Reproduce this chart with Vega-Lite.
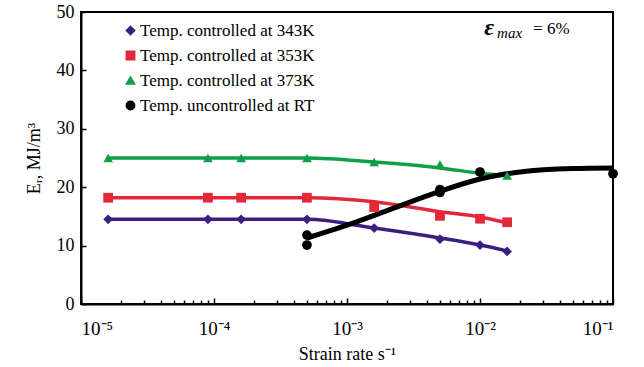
{
  "$schema": "https://vega.github.io/schema/vega-lite/v6.json",
  "width": 532,
  "height": 292,
  "autosize": "none",
  "padding": {"left": 81, "top": 12, "right": 31, "bottom": 63},
  "background": "white",
  "config": {
    "font": "Liberation Serif",
    "view": {"stroke": "black", "strokeWidth": 2},
    "axis": {
      "domainColor": "black", "domainWidth": 2, "tickColor": "black", "tickWidth": 1.5,
      "labelColor": "black", "titleColor": "black", "labelFont": "Liberation Serif", "titleFont": "Liberation Serif",
      "labelFontSize": 18, "titleFontSize": 18, "titleFontWeight": "normal", "grid": false
    },
    "legend": {"labelFontSize": 17, "labelFont": "Liberation Serif", "labelColor": "black", "symbolSize": 70, "rowPadding": 7, "labelOffset": 1, "labelLimit": 0}
  },
  "datasets": {
    "pts": [
      {"series": "Temp. controlled at 343K", "rate": 0.000016, "er": 14.5},
      {"series": "Temp. controlled at 343K", "rate": 0.00009, "er": 14.5},
      {"series": "Temp. controlled at 343K", "rate": 0.00016, "er": 14.5},
      {"series": "Temp. controlled at 343K", "rate": 0.0005, "er": 14.5},
      {"series": "Temp. controlled at 343K", "rate": 0.0016, "er": 13.0},
      {"series": "Temp. controlled at 343K", "rate": 0.005, "er": 11.1},
      {"series": "Temp. controlled at 343K", "rate": 0.01, "er": 10.1},
      {"series": "Temp. controlled at 343K", "rate": 0.016, "er": 9.0},
      {"series": "Temp. controlled at 353K", "rate": 0.000016, "er": 18.2},
      {"series": "Temp. controlled at 353K", "rate": 0.00009, "er": 18.2},
      {"series": "Temp. controlled at 353K", "rate": 0.00016, "er": 18.2},
      {"series": "Temp. controlled at 353K", "rate": 0.0005, "er": 18.2},
      {"series": "Temp. controlled at 353K", "rate": 0.0016, "er": 16.6},
      {"series": "Temp. controlled at 353K", "rate": 0.005, "er": 15.1},
      {"series": "Temp. controlled at 353K", "rate": 0.01, "er": 14.6},
      {"series": "Temp. controlled at 353K", "rate": 0.016, "er": 14.0},
      {"series": "Temp. controlled at 373K", "rate": 0.000016, "er": 25.0},
      {"series": "Temp. controlled at 373K", "rate": 0.00009, "er": 25.0},
      {"series": "Temp. controlled at 373K", "rate": 0.00016, "er": 25.0},
      {"series": "Temp. controlled at 373K", "rate": 0.0005, "er": 25.0},
      {"series": "Temp. controlled at 373K", "rate": 0.0016, "er": 24.3},
      {"series": "Temp. controlled at 373K", "rate": 0.005, "er": 23.9},
      {"series": "Temp. controlled at 373K", "rate": 0.01, "er": 22.8},
      {"series": "Temp. controlled at 373K", "rate": 0.016, "er": 22.0},
      {"series": "Temp. uncontrolled at RT", "rate": 0.0005, "er": 11.8},
      {"series": "Temp. uncontrolled at RT", "rate": 0.0005, "er": 10.1},
      {"series": "Temp. uncontrolled at RT", "rate": 0.005, "er": 19.6},
      {"series": "Temp. uncontrolled at RT", "rate": 0.005, "er": 19.1},
      {"series": "Temp. uncontrolled at RT", "rate": 0.01, "er": 22.6},
      {"series": "Temp. uncontrolled at RT", "rate": 0.1, "er": 22.3}
    ],
    "fit": [
      {"series": "Temp. controlled at 343K", "rate": 0.000016, "er": 14.5},
      {"series": "Temp. controlled at 343K", "rate": 0.00009, "er": 14.5},
      {"series": "Temp. controlled at 343K", "rate": 0.00016, "er": 14.5},
      {"series": "Temp. controlled at 343K", "rate": 0.0005, "er": 14.5},
      {"series": "Temp. controlled at 343K", "rate": 0.0016, "er": 13.0},
      {"series": "Temp. controlled at 343K", "rate": 0.005, "er": 11.3},
      {"series": "Temp. controlled at 343K", "rate": 0.01, "er": 10.1},
      {"series": "Temp. controlled at 343K", "rate": 0.016, "er": 9.1},
      {"series": "Temp. controlled at 353K", "rate": 0.000016, "er": 18.2},
      {"series": "Temp. controlled at 353K", "rate": 0.00009, "er": 18.2},
      {"series": "Temp. controlled at 353K", "rate": 0.00016, "er": 18.2},
      {"series": "Temp. controlled at 353K", "rate": 0.0005, "er": 18.2},
      {"series": "Temp. controlled at 353K", "rate": 0.0016, "er": 17.5},
      {"series": "Temp. controlled at 353K", "rate": 0.005, "er": 15.8},
      {"series": "Temp. controlled at 353K", "rate": 0.01, "er": 14.9},
      {"series": "Temp. controlled at 353K", "rate": 0.016, "er": 13.9},
      {"series": "Temp. controlled at 373K", "rate": 0.000016, "er": 25.0},
      {"series": "Temp. controlled at 373K", "rate": 0.00009, "er": 25.0},
      {"series": "Temp. controlled at 373K", "rate": 0.00016, "er": 25.0},
      {"series": "Temp. controlled at 373K", "rate": 0.0005, "er": 25.0},
      {"series": "Temp. controlled at 373K", "rate": 0.0016, "er": 24.3},
      {"series": "Temp. controlled at 373K", "rate": 0.005, "er": 23.3},
      {"series": "Temp. controlled at 373K", "rate": 0.01, "er": 22.4},
      {"series": "Temp. controlled at 373K", "rate": 0.016, "er": 22.0}
    ],
    "fitrt": [
      {"rate": 0.0005, "er": 11.3},
      {"rate": 0.001, "er": 13.5},
      {"rate": 0.002, "er": 16.0},
      {"rate": 0.005, "er": 19.3},
      {"rate": 0.01, "er": 21.4},
      {"rate": 0.02, "er": 22.6},
      {"rate": 0.05, "er": 23.2},
      {"rate": 0.1, "er": 23.3}
    ]
  },
  "resolve": {"axis": {"x": "independent"}},
  "layer": [
    {
      "data": {"name": "fit"},
      "mark": {"type": "line", "interpolate": "monotone", "strokeWidth": 3.5},
      "encoding": {
        "x": {"field": "rate", "type": "quantitative", "scale": {"type": "log", "domain": [0.00001, 0.1]},
          "axis": {"orient": "bottom", "values": [0.00002,0.00003,0.00004,0.00005,0.00006,0.00007,0.00008,0.00009,0.0002,0.0003,0.0004,0.0005,0.0006,0.0007,0.0008,0.0009,0.002,0.003,0.004,0.005,0.006,0.007,0.008,0.009,0.02,0.03,0.04,0.05,0.06,0.07,0.08,0.09],
            "labels": false, "domain": false, "tickSize": -4, "title": null}},
        "y": {"field": "er", "type": "quantitative", "scale": {"domain": [0, 50]},
          "axis": {"values": [0, 10, 20, 30, 40, 50], "tickSize": -5, "labelPadding": 12, "title": "Eᵣ, MJ/m³", "titlePadding": 13}},
        "color": {"field": "series", "type": "nominal",
          "scale": {"domain": ["Temp. controlled at 343K", "Temp. controlled at 353K", "Temp. controlled at 373K", "Temp. uncontrolled at RT"],
            "range": ["#3b1f80", "#e3283a", "#0ea048", "black"]}}
      }
    },
    {
      "data": {"name": "fitrt"},
      "mark": {"type": "line", "interpolate": "monotone", "strokeWidth": 5, "color": "black"},
      "encoding": {
        "x": {"field": "rate", "type": "quantitative", "axis": null},
        "y": {"field": "er", "type": "quantitative"}
      }
    },
    {
      "data": {"name": "pts"},
      "mark": {"type": "point", "filled": true, "opacity": 1, "size": 95},
      "encoding": {
        "x": {"field": "rate", "type": "quantitative",
          "axis": {"orient": "bottom", "values": [0.00001, 0.0001, 0.001, 0.01, 0.1], "tickSize": -6, "labelPadding": 21, "labelFontSize": 19,
            "labelExpr": "datum.value < 0.00005 ? '10⁻⁵' : datum.value < 0.0005 ? '10⁻⁴' : datum.value < 0.005 ? '10⁻³' : datum.value < 0.05 ? '10⁻²' : '10⁻¹'",
            "title": "Strain rate s⁻¹", "titlePadding": 7}},
        "y": {"field": "er", "type": "quantitative"},
        "color": {"field": "series", "type": "nominal", "title": null,
          "scale": {"domain": ["Temp. controlled at 343K", "Temp. controlled at 353K", "Temp. controlled at 373K", "Temp. uncontrolled at RT"],
            "range": ["#3b1f80", "#e3283a", "#0ea048", "black"]},
          "legend": {"orient": "none", "legendX": 41, "legendY": 10, "title": null}},
        "shape": {"field": "series", "type": "nominal", "title": null,
          "scale": {"domain": ["Temp. controlled at 343K", "Temp. controlled at 353K", "Temp. controlled at 373K", "Temp. uncontrolled at RT"],
            "range": ["diamond", "square", "triangle-up", "circle"]}}
      }
    },
    {
      "data": {"values": [{}]},
      "mark": {"type": "text", "text": "ε", "fontSize": 24, "fontStyle": "italic", "fontWeight": "bold", "align": "center", "baseline": "middle", "font": "Liberation Serif"},
      "encoding": {"x": {"datum": 0.0117, "type": "quantitative", "axis": null}, "y": {"datum": 47.3, "type": "quantitative"}}
    },
    {
      "data": {"values": [{}]},
      "mark": {"type": "text", "text": "max", "fontSize": 15, "fontStyle": "italic", "align": "left", "baseline": "middle", "dx": 8, "dy": 5, "font": "Liberation Serif"},
      "encoding": {"x": {"datum": 0.0117, "type": "quantitative", "axis": null}, "y": {"datum": 47.3, "type": "quantitative"}}
    },
    {
      "data": {"values": [{}]},
      "mark": {"type": "text", "text": "= 6%", "fontSize": 17, "align": "left", "baseline": "middle", "dx": 44, "dy": 1, "font": "Liberation Serif"},
      "encoding": {"x": {"datum": 0.0117, "type": "quantitative", "axis": null}, "y": {"datum": 47.3, "type": "quantitative"}}
    }
  ]
}
